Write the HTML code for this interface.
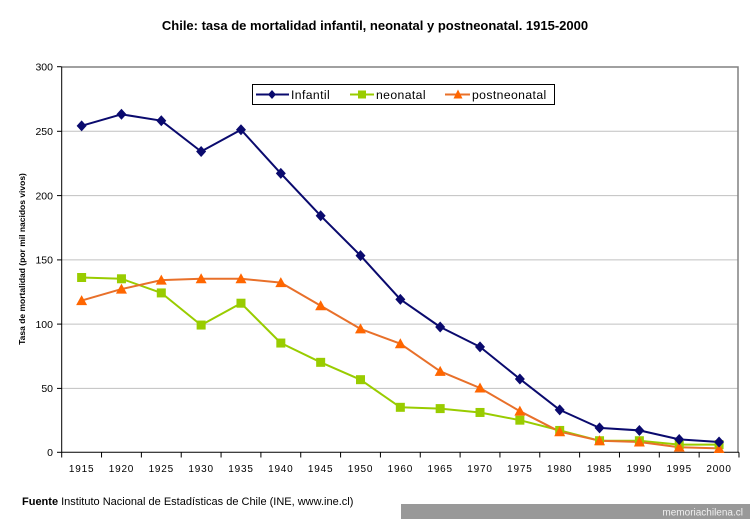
<!DOCTYPE html>
<html><head><meta charset="utf-8"><style>
html,body{margin:0;padding:0;background:#fff;}
svg{display:block;}
text{font-family:"Liberation Sans",Arial,sans-serif;}
</style></head><body>
<svg width="750" height="519" viewBox="0 0 750 519" xmlns="http://www.w3.org/2000/svg">
<rect width="750" height="519" fill="#fff"/>
<text x="375" y="30" font-size="13" font-weight="bold" text-anchor="middle" fill="#000">Chile: tasa de mortalidad infantil, neonatal y postneonatal. 1915-2000</text>
<!-- gridlines -->
<g stroke="#c0c0c0" stroke-width="1">
<line x1="62" y1="131.3" x2="738" y2="131.3"/>
<line x1="62" y1="195.6" x2="738" y2="195.6"/>
<line x1="62" y1="259.9" x2="738" y2="259.9"/>
<line x1="62" y1="324.1" x2="738" y2="324.1"/>
<line x1="62" y1="388.4" x2="738" y2="388.4"/>
</g>
<!-- plot border -->
<polyline points="62,67 738,67 738,452" fill="none" stroke="#808080" stroke-width="1.5"/>
<!-- axes -->
<line x1="61.7" y1="66.7" x2="61.7" y2="452.3" stroke="#000" stroke-width="1"/>
<line x1="61.7" y1="452.3" x2="739" y2="452.3" stroke="#000" stroke-width="1"/>
<g stroke="#000" stroke-width="1">
<line x1="57" y1="66.7" x2="61.7" y2="66.7"/>
<line x1="57" y1="131.3" x2="61.7" y2="131.3"/>
<line x1="57" y1="195.6" x2="61.7" y2="195.6"/>
<line x1="57" y1="259.9" x2="61.7" y2="259.9"/>
<line x1="57" y1="324.1" x2="61.7" y2="324.1"/>
<line x1="57" y1="388.4" x2="61.7" y2="388.4"/>
<line x1="57" y1="452.3" x2="61.7" y2="452.3"/>
</g>
<g font-size="10.5" text-anchor="end" fill="#000">
<text x="53" y="70.5">300</text>
<text x="53" y="135">250</text>
<text x="53" y="199.5">200</text>
<text x="53" y="263.5">150</text>
<text x="53" y="328">100</text>
<text x="53" y="392">50</text>
<text x="53" y="456">0</text>
</g>
<g id="xt" stroke="#000" stroke-width="1"></g>
<g id="xl" font-size="10" text-anchor="middle" fill="#000" letter-spacing="0.8"></g>
<text transform="translate(25,259) rotate(-90)" font-size="8.5" font-weight="bold" text-anchor="middle" fill="#000">Tasa de mortalidad (por mil nacidos vivos)</text>
<g id="series"></g>
<!-- legend -->
<rect x="252.5" y="84.5" width="302" height="20" fill="#fff" stroke="#000" stroke-width="1"/>
<line x1="256" y1="94.5" x2="289" y2="94.5" stroke="#0a0a6e" stroke-width="2"/>
<polygon points="272,90 276,94.5 272,99 268,94.5" fill="#0a0a6e"/>
<text x="291" y="99" font-size="12.2" letter-spacing="0.4" fill="#000">Infantil</text>
<line x1="350" y1="94.5" x2="374" y2="94.5" stroke="#99cc00" stroke-width="2"/>
<rect x="358" y="90.5" width="8" height="8" fill="#99cc00"/>
<text x="376" y="99" font-size="12.2" letter-spacing="0.4" fill="#000">neonatal</text>
<line x1="445" y1="94.5" x2="470" y2="94.5" stroke="#e8702a" stroke-width="2"/>
<polygon points="458,89.5 462.5,98.5 453.5,98.5" fill="#ff6600"/>
<text x="472" y="99" font-size="12.2" letter-spacing="0.4" fill="#000">postneonatal</text>
<!-- footer -->
<text x="22" y="505" font-size="11" fill="#000"><tspan font-weight="bold">Fuente</tspan>  Instituto Nacional de Estadísticas de Chile (INE, www.ine.cl)</text>
<rect x="401" y="504" width="349" height="15" fill="#999"/>
<text x="743" y="515.5" font-size="10" text-anchor="end" fill="#f0f0f0">memoriachilena.cl</text>
</svg>
<script>
(function(){
var NS="http://www.w3.org/2000/svg";
var years=["1915","1920","1925","1930","1935","1940","1945","1950","1960","1965","1970","1975","1980","1985","1990","1995","2000"];
var x0=61.7,w=39.84,y0=452.3,k=1.2853;
var xt=document.getElementById("xt"),xl=document.getElementById("xl"),sg=document.getElementById("series");
function el(n,a,p){var e=document.createElementNS(NS,n);for(var i in a)e.setAttribute(i,a[i]);p.appendChild(e);return e;}
for(var i=0;i<=17;i++){var x=x0+w*i;el("line",{x1:x,y1:452.3,x2:x,y2:457.5},xt);}
for(var i=0;i<17;i++){var t=el("text",{x:x0+w*(i+0.5),y:472},xl);t.textContent=years[i];}
var inf=[254,263,258,234,251,217,184,153,119,97.5,82,57,33,19,17,10,8];
var neo=[136,135,124,99,116,85,70,56.5,35,34,31,25,17,9,9,6,6];
var post=[118,127,134,135,135,132,114,96,84.5,63,50,32,16,9,8,4,3];
function pts(d){return d.map(function(v,i){return [x0+w*(i+0.5),y0-v*k];});}
function line(d,c){el("polyline",{points:pts(d).map(function(p){return p[0].toFixed(1)+","+p[1].toFixed(1);}).join(" "),fill:"none",stroke:c,"stroke-width":2,"stroke-linejoin":"round"},sg);}
line(neo,"#99cc00");line(post,"#e8702a");line(inf,"#0a0a6e");
pts(neo).forEach(function(p){el("rect",{x:p[0]-4.5,y:p[1]-4.5,width:9,height:9,fill:"#99cc00"},sg);});
pts(post).forEach(function(p){el("polygon",{points:(p[0])+","+(p[1]-5.5)+" "+(p[0]+5.5)+","+(p[1]+4.5)+" "+(p[0]-5.5)+","+(p[1]+4.5),fill:"#ff6600"},sg);});
pts(inf).forEach(function(p){el("polygon",{points:p[0]+","+(p[1]-5.5)+" "+(p[0]+5)+","+p[1]+" "+p[0]+","+(p[1]+5.5)+" "+(p[0]-5)+","+p[1],fill:"#0a0a6e"},sg);});
})();
</script>
</body></html>
